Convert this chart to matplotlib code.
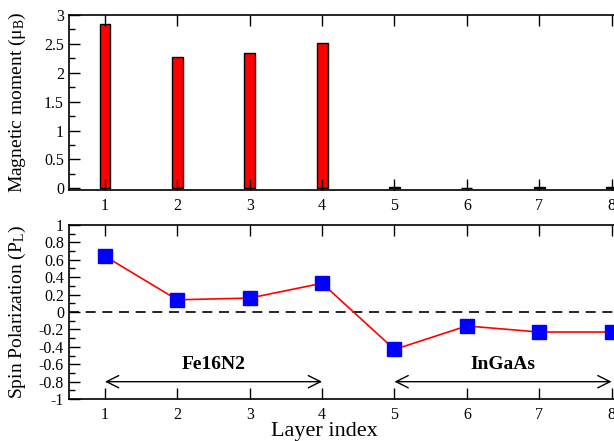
import matplotlib
matplotlib.use("Agg")
import matplotlib.pyplot as plt
from matplotlib.ticker import MultipleLocator

plt.rcParams['font.family'] = ['Liberation Serif', 'DejaVu Serif']
plt.rcParams['mathtext.fontset'] = 'custom'
plt.rcParams['mathtext.rm'] = 'Liberation Serif'
plt.rcParams['mathtext.it'] = 'Liberation Serif:italic'

layers = [1, 2, 3, 4, 5, 6, 7, 8]
moment = [2.85, 2.28, 2.34, 2.52, 0.02, 0.005, 0.02, 0.02]
polarization = [0.64, 0.14, 0.16, 0.33, -0.43, -0.16, -0.23, -0.23]
regions = [("Fe16N2", 1, 4), ("InGaAs", 5, 8)]

fig = plt.figure(figsize=(6.14, 4.41), dpi=100)
ax1 = fig.add_axes([0.112, 0.569, 0.943, 0.397])
ax2 = fig.add_axes([0.112, 0.095, 0.943, 0.395])

ax1.bar(layers, moment, width=0.15, color='#ff0000', edgecolor='black', linewidth=1)
ax1.set_xlim(0.5, 8.5)
ax1.set_ylim(-0.03, 3)
ax1.set_yticks([0, 0.5, 1, 1.5, 2, 2.5, 3])
ax1.set_yticklabels(['0', '0.5', '1', '1.5', '2', '2.5', '3'])
ax1.yaxis.set_minor_locator(MultipleLocator(0.25))
ax1.set_xticks(layers)
ax1.set_ylabel(r'Magnetic moment ($\mathrm{\mu_B}$)', fontsize=14)
ax1.yaxis.set_label_coords(-0.07, 0.5)

ax2.axhline(0, color='black', linestyle=(0, (6, 4)), linewidth=1.2)
ax2.plot(layers, polarization, color='#ff0000', linewidth=1.2, marker='s',
         markersize=9.5, markerfacecolor='#0000ff', markeredgecolor='#0000ff')
ax2.set_xlim(0.5, 8.5)
ax2.set_ylim(-1, 1)
ax2.set_yticks([1, 0.8, 0.6, 0.4, 0.2, 0, -0.2, -0.4, -0.6, -0.8, -1])
ax2.set_yticklabels(['1', '0.8', '0.6', '0.4', '0.2', '0', '-0.2', '-0.4', '-0.6', '-0.8', '-1'])
ax2.yaxis.set_minor_locator(MultipleLocator(0.1))
ax2.set_xticks(layers)
ax2.set_ylabel(r'Spin Polarization ($\mathrm{P_L}$)', fontsize=14)
ax2.yaxis.set_label_coords(-0.07, 0.5)
ax2.set_xlabel('Layer index', fontsize=16)
ax2.xaxis.set_label_coords(0.442, -0.132)

for name, a, b in regions:
    ax2.annotate('', xy=(a, -0.8), xytext=(b, -0.8),
                 arrowprops=dict(arrowstyle='<->', color='black', lw=1,
                                 mutation_scale=22, shrinkA=0, shrinkB=0))
    ax2.text((a + b) / 2, -0.6, name, ha='center', va='center',
             fontsize=14, fontweight='bold')

for ax in (ax1, ax2):
    ax.tick_params(which='both', direction='in', top=True, right=True,
                   labelsize=11.5)
    ax.tick_params(which='major', length=8, width=1)
    ax.tick_params(which='minor', length=4, width=1)
    ax.tick_params(axis='x', which='major', pad=6)
    for s in ax.spines.values():
        s.set_linewidth(1.2)

fig.savefig('out.png', dpi=100)
